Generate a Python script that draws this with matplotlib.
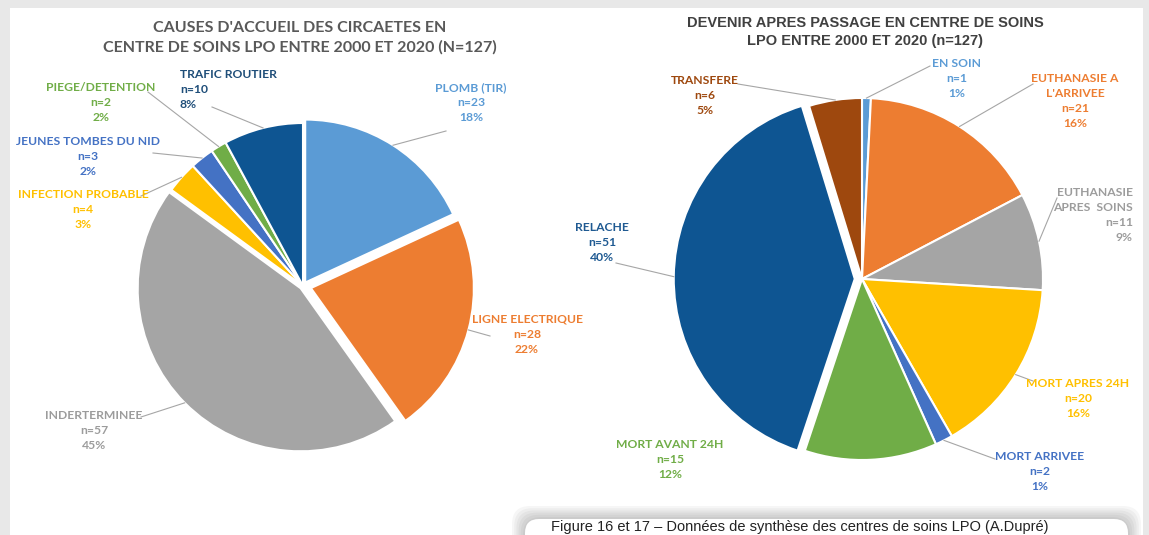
import numpy as np
import matplotlib
matplotlib.use("Agg")
import matplotlib.pyplot as plt
from matplotlib.patches import Rectangle, FancyBboxPatch

W, H = 1149, 535

# ---- données : causes d'accueil
causes      = ["PLOMB (TIR)", "LIGNE ELECTRIQUE", "INDERTERMINEE", "INFECTION PROBABLE",
               "JEUNES TOMBES DU NID", "PIEGE/DETENTION", "TRAFIC ROUTIER"]
causes_n    = [23, 28, 57, 4, 3, 2, 10]
causes_pct  = [18, 22, 45, 3, 2, 2, 8]

# ---- données : devenir après passage
devenir     = ["EN SOIN", "EUTHANASIE A\nL'ARRIVEE", "EUTHANASIE\nAPRES  SOINS", "MORT APRES 24H",
               "MORT ARRIVEE", "MORT AVANT 24H", "RELACHE", "TRANSFERE"]
devenir_n   = [1, 21, 11, 20, 2, 15, 51, 6]
devenir_pct = [1, 16, 9, 16, 1, 12, 40, 5]

BLUE, ORANGE, GREY, YELLOW = "#5B9BD5", "#ED7D31", "#A5A5A5", "#FFC000"
MBLUE, GREEN, DBLUE, BROWN = "#4472C4", "#70AD47", "#0E5592", "#9E480E"

col_causes  = [BLUE, ORANGE, GREY, YELLOW, MBLUE, GREEN, DBLUE]
txt_causes  = [BLUE, ORANGE, "#9C9C9C", YELLOW, MBLUE, GREEN, "#1F4E79"]
col_devenir = [BLUE, ORANGE, GREY, YELLOW, MBLUE, GREEN, DBLUE, BROWN]
txt_devenir = [BLUE, ORANGE, "#9C9C9C", YELLOW, MBLUE, GREEN, "#1F5A92", BROWN]

LABEL_FONT = ["Lato", "DejaVu Sans"]

fig = plt.figure(figsize=(W / 100, H / 100), dpi=100, facecolor="#e8e8e8")
ax = fig.add_axes([0, 0, 1, 1])
ax.set_xlim(0, W)
ax.set_ylim(0, H)
ax.axis("off")

def Y(y):
    return H - y

# fond : panneau blanc + encadré de légende
ax.add_patch(Rectangle((10, 0), 1133, Y(8), facecolor="white", edgecolor="none", zorder=0))
for k in range(6):
    p = 13 - 2.2 * k
    ax.add_patch(FancyBboxPatch((525, Y(560)), 603, 41, boxstyle=f"round,pad={p},rounding_size=18",
                                facecolor="#000000", edgecolor="none", alpha=0.035, zorder=1))
ax.add_patch(FancyBboxPatch((525, Y(560)), 603, 41, boxstyle="round,pad=0,rounding_size=14",
                            facecolor="white", edgecolor="none", zorder=2))
ax.text(551, Y(534), "Figure 16 et 17 – Données de synthèse des centres de soins LPO (A.Dupré)",
        fontsize=10.5, color="#222222", ha="left", va="bottom", family="Liberation Sans", zorder=3)


def draw_pie(values, colors, center, radius, explode, labels, n, pct, tcolors,
             label_pos, leader_pts, aligns):
    # explode de matplotlib est en unités de données -> on le met à l'échelle du rayon
    wedges, _ = ax.pie(values, colors=colors, startangle=90, counterclock=False,
                       center=center, radius=radius, explode=[e * radius for e in explode],
                       frame=True, wedgeprops=dict(edgecolor="white", linewidth=1.5))
    for i, w in enumerate(wedges):
        x, y = label_pos[i]
        ha = aligns[i]
        ax.text(x, Y(y), f"{labels[i]}\nn={n[i]}\n{pct[i]}%", ha=ha, va="top",
                multialignment=ha, color=tcolors[i], fontsize=8.7, fontweight="bold",
                family=LABEL_FONT, linespacing=1.45, zorder=5)
        if leader_pts[i] is not None:
            mid = np.deg2rad((w.theta1 + w.theta2) / 2)
            cx, cy = w.center
            ex, ey = cx + w.r * np.cos(mid), cy + w.r * np.sin(mid)
            lx, ly = leader_pts[i]
            ax.plot([lx, ex], [Y(ly), ey], color="#A6A6A6", lw=0.8, zorder=4)


# ---- camembert gauche
ax.text(300, Y(21), "CAUSES D'ACCUEIL DES CIRCAETES EN\nCENTRE DE SOINS LPO ENTRE 2000 ET 2020 (N=127)",
        ha="center", va="top", fontsize=11.5, fontweight="bold", color="#595959",
        family=["Lato", "DejaVu Sans"], linespacing=1.45)
draw_pie(causes_n, col_causes, (303, Y(286)), 163,
         [0.025, 0.05, 0.02, 0, 0, 0, 0],
         causes, causes_n, causes_pct, txt_causes,
         [(471, 82), (527, 314), (94, 410), (83, 189), (88, 136), (101, 82), (180, 69)],
         [(446, 131), (490, 336), (141, 417), (141, 196), (153, 153), (148, 92), (212, 107)],
         ["center", "center", "center", "center", "center", "center", "left"])

# ---- camembert droit
ax.text(865, Y(16), "DEVENIR APRES PASSAGE EN CENTRE DE SOINS\nLPO ENTRE 2000 ET 2020 (n=127)",
        ha="center", va="top", fontsize=10.5, fontweight="bold", color="#404040",
        family="Liberation Sans", linespacing=1.4)
draw_pie(devenir_n, col_devenir, (862, Y(279)), 181,
         [0, 0, 0, 0, 0, 0, 0.04, 0],
         devenir, devenir_n, devenir_pct, txt_devenir,
         [(957, 58), (1075, 73), (1133, 187), (1078, 378), (1040, 451), (670, 439), (602, 222), (705, 75)],
         [(930, 66), (1033, 84), (1057, 198), (1033, 381), (995, 459), None, (616, 263), (738, 84)],
         ["center", "center", "right", "center", "center", "center", "center", "center"])

ax.set_xlim(0, W)
ax.set_ylim(0, H)
ax.axis("off")

fig.savefig("out.png", dpi=100, facecolor=fig.get_facecolor())
